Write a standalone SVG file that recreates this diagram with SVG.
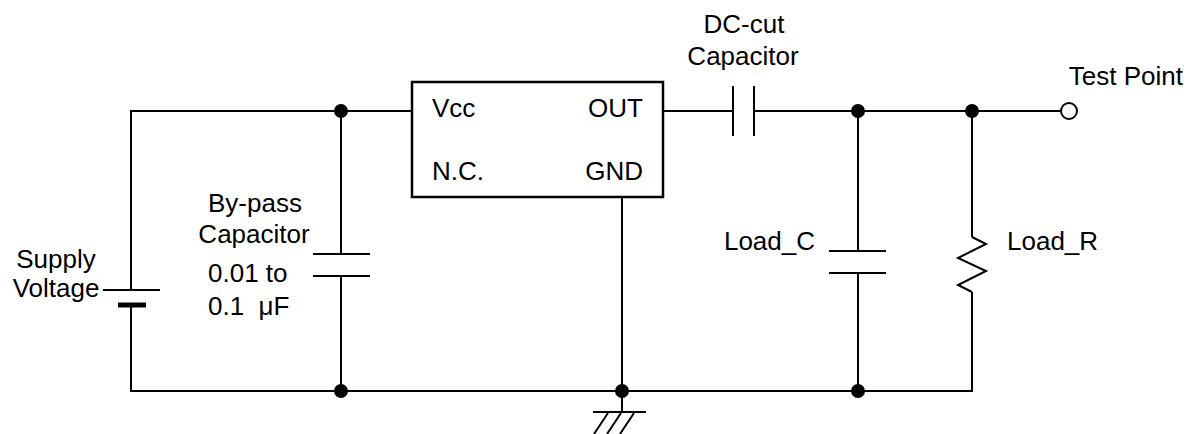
<svg xmlns="http://www.w3.org/2000/svg" width="1189" height="434" viewBox="0 0 1189 434">
<style>
text{font-family:"Liberation Sans",Arial,sans-serif;font-size:26px;fill:#000}
.w{stroke:#000;stroke-width:2;fill:none}
.dot{fill:#000}
</style>
<rect width="1189" height="434" fill="#fff"/>
<g id="connectors" class="w">
<path d="M131,290 V111 H412"/>
<path d="M131,305 V391 H972 V292"/>
<path d="M341,111 V254 M341,276 V391"/>
<path d="M663,111 H733 M754,111 H1061"/>
<path d="M858,111 V251 M858,273 V391"/>
<path d="M972,111 V237"/>
<path d="M622,197 V412"/>
</g>
<g id="battery">
<line x1="103" y1="290" x2="160" y2="290" class="w"/>
<line x1="118" y1="305" x2="146" y2="305" stroke="#000" stroke-width="5"/>
<text x="56" y="268" text-anchor="middle">Supply</text>
<text x="56" y="297" text-anchor="middle">Voltage</text>
</g>
<g id="bypass-cap">
<path class="w" d="M313,254 H370 M313,276 H370"/>
<text x="255" y="212" text-anchor="middle">By-pass</text>
<text x="254" y="243" text-anchor="middle">Capacitor</text>
<text x="208" y="282">0.01 to</text>
<text x="208" y="315" xml:space="preserve">0.1  μF</text>
</g>
<g id="ic">
<rect x="412" y="82" width="251" height="115" fill="#fff" stroke="#000" stroke-width="2.5"/>
<text x="432" y="117">Vcc</text>
<text x="643" y="117" text-anchor="end">OUT</text>
<text x="432" y="180">N.C.</text>
<text x="643" y="180" text-anchor="end">GND</text>
</g>
<g id="dc-cut-cap">
<path class="w" d="M733,86 V136 M754,86 V136"/>
<text x="744" y="33" text-anchor="middle">DC-cut</text>
<text x="743" y="65" text-anchor="middle">Capacitor</text>
</g>
<g id="load-c">
<path class="w" d="M829,251 H886 M829,273 H886"/>
<text x="815" y="250" text-anchor="end">Load_C</text>
</g>
<g id="load-r">
<polyline class="w" points="972,237 986,244 958,258 986,271 958,285 972,292"/>
<text x="1007" y="250">Load_R</text>
</g>
<g id="test-point">
<circle cx="1069" cy="111" r="8" fill="#fff" stroke="#000" stroke-width="2"/>
<text x="1183" y="85" text-anchor="end">Test Point</text>
</g>
<g id="ground">
<path class="w" d="M593,412 H646 M608,413 L594,434 M621,413 L607,434 M634,413 L620,434"/>
</g>
<g id="junctions">
<circle class="dot" cx="341" cy="111" r="7"/>
<circle class="dot" cx="341" cy="391" r="7"/>
<circle class="dot" cx="622" cy="391" r="7"/>
<circle class="dot" cx="858" cy="111" r="7"/>
<circle class="dot" cx="858" cy="391" r="7"/>
<circle class="dot" cx="972" cy="111" r="7"/>
</g>
</svg>
